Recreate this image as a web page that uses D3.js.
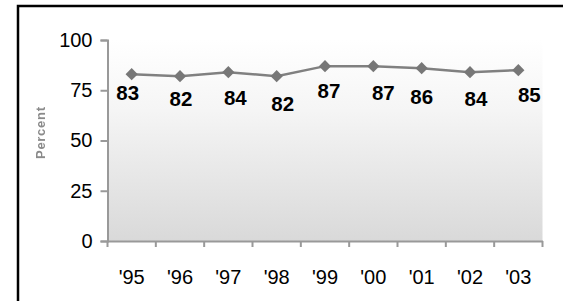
<!DOCTYPE html>
<html>
<head>
<meta charset="utf-8">
<script src="https://cdn.jsdelivr.net/npm/d3@7"></script>
<style>
  body { margin: 0; background: #fff; }
  text { font-family: "Liberation Sans", Arial, sans-serif; }
</style>
</head>
<body>
<div id="chart"></div>
<script>
// survey values, percent
var years = ["'95", "'96", "'97", "'98", "'99", "'00", "'01", "'02", "'03"]
var percent = [83, 82, 84, 82, 87, 87, 86, 84, 85]
var yTicks = [0, 25, 50, 75, 100]

// hand-placed label nudges (dx, dy from the marker), like the original
var labelDx = [-4, 1, 7, 6, 4, 10, 0, 6, 11]
var labelDy = [26, 30, 33, 35, 32, 34, 36, 34, 32]

var width = 563, height = 301
var margin = { top: 40, right: 20, bottom: 60, left: 107.5 }

var svg = d3.select("#chart")
  .append("svg")
  .attr("width", width)
  .attr("height", height)

var x = d3.scaleBand()
  .domain(years)
  .range([margin.left, 542.5])

var y = d3.scaleLinear()
  .domain([0, 100])
  .range([241, margin.top])

var defs = svg.append("defs")

// plot background gradient
var grad = defs.append("linearGradient")
  .attr("id", "bg")
  .attr("x1", 0).attr("y1", 0).attr("x2", 0).attr("y2", 1)
grad.append("stop").attr("offset", "0%").attr("stop-color", "#ffffff")
grad.append("stop").attr("offset", "35%").attr("stop-color", "#f5f5f5")
grad.append("stop").attr("offset", "100%").attr("stop-color", "#d9d9d9")

defs.append("filter").attr("id", "soft")
  .append("feGaussianBlur").attr("stdDeviation", 0.6)

svg.append("rect")
  .attr("x", x.range()[0])
  .attr("y", y(100))
  .attr("width", x.range()[1] - x.range()[0])
  .attr("height", y(0) - y(100))
  .attr("fill", "url(#bg)")

// frame, cut off at right and bottom
svg.append("path")
  .attr("d", "M18,301 V6 H563")
  .attr("fill", "none")
  .attr("stroke", "#000")
  .attr("stroke-width", 2.5)

// y axis
var yAxis = svg.append("g")
  .attr("transform", "translate(" + margin.left + ",0)")
  .call(d3.axisLeft(y).tickValues(yTicks).tickSize(7).tickPadding(8))
yAxis.select(".domain").attr("stroke", "#999").attr("stroke-width", 2)
yAxis.selectAll(".tick line").attr("stroke", "#999").attr("stroke-width", 2)
yAxis.selectAll(".tick text")
  .attr("font-size", 20)
  .attr("fill", "#000")
  .attr("font-family", "Liberation Sans, Arial, sans-serif")

// x axis, ticks between categories
var xAxis = svg.append("g")
  .attr("transform", "translate(0," + y(0) + ")")
  .call(d3.axisBottom(x).tickSize(0).tickPadding(29))
xAxis.select(".domain").attr("stroke", "#999").attr("stroke-width", 2)
xAxis.selectAll(".tick text")
  .attr("font-size", 20)
  .attr("fill", "#000")
  .attr("font-family", "Liberation Sans, Arial, sans-serif")

var edges = years.map(function(d) { return x(d) }).concat([x.range()[1]])
svg.append("g")
  .selectAll("line")
  .data(edges)
  .enter()
  .append("line")
  .attr("x1", function(d) { return d })
  .attr("x2", function(d) { return d })
  .attr("y1", y(0))
  .attr("y2", y(0) + 6)
  .attr("stroke", "#999")
  .attr("stroke-width", 2)

// y title
svg.append("text")
  .attr("transform", "translate(45,133) rotate(-90)")
  .attr("text-anchor", "middle")
  .attr("font-size", 13)
  .attr("font-weight", "bold")
  .attr("fill", "#8a8a8a")
  .attr("textLength", 52)
  .attr("filter", "url(#soft)")
  .text("Percent")

// line + diamonds
var cx = function(d, i) { return x(years[i]) + x.bandwidth() / 2 }

svg.append("path")
  .datum(percent)
  .attr("fill", "none")
  .attr("stroke", "#808080")
  .attr("stroke-width", 2.5)
  .attr("d", d3.line()
    .x(cx)
    .y(function(d) { return y(d) }))

svg.append("g")
  .selectAll("path")
  .data(percent)
  .enter()
  .append("path")
  .attr("transform", function(d, i) {
    return "translate(" + cx(d, i) + "," + y(d) + ")"
  })
  .attr("d", d3.symbol().type(d3.symbolDiamond2).size(95))
  .attr("fill", "#777")

svg.append("g")
  .selectAll("text")
  .data(percent)
  .enter()
  .append("text")
  .attr("x", function(d, i) { return cx(d, i) + labelDx[i] })
  .attr("y", function(d, i) { return y(d) + labelDy[i] })
  .attr("text-anchor", "middle")
  .attr("font-size", 20.5)
  .attr("font-weight", "bold")
  .attr("fill", "#000")
  .text(function(d) { return d })
</script>
</body>
</html>
